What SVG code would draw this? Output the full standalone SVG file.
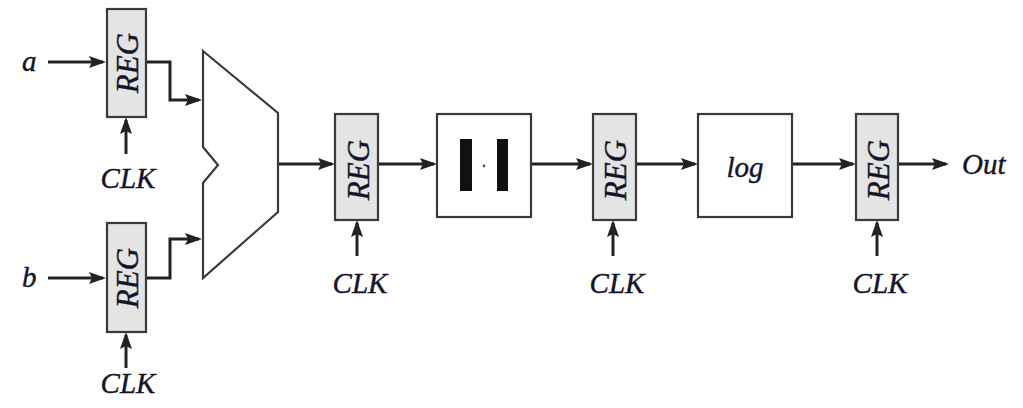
<svg xmlns="http://www.w3.org/2000/svg" width="1023" height="408" viewBox="0 0 1023 408">
  <style>
    .reg { fill: #e4e4e4; stroke: #3a3a3a; stroke-width: 2.2; }
    .blk { fill: #ffffff; stroke: #3a3a3a; stroke-width: 2.2; }
    .mux { fill: #ffffff; stroke: #3a3a3a; stroke-width: 2.2; stroke-linejoin: miter; }
    .wire { fill: none; stroke: #222; stroke-width: 3; marker-end: url(#arrow); }
    .lbl { font-family: "Liberation Serif", "Times New Roman", serif; font-style: italic; fill: #141428; stroke: #141428; stroke-width: 0.4; }
    .io { font-size: 29px; }
    .clk { font-size: 29px; text-anchor: middle; }
    .regt { font-size: 31px; text-anchor: middle; dominant-baseline: central; }
  </style>
  <defs>
    <marker id="arrow" markerUnits="userSpaceOnUse" markerWidth="17" markerHeight="12" refX="14" refY="6" orient="auto">
      <path d="M0,0 L17,6 L0,12 L3,6 z" fill="#222"/>
    </marker>
  </defs>

  <rect width="1023" height="408" fill="#ffffff"/>

  <!-- connectors -->
  <g id="connectors">
    <!-- inputs -->
    <path class="wire" d="M48,62 H103"/>
    <path class="wire" d="M48,278 H103"/>
    <!-- registers into multiplexer -->
    <path class="wire" d="M146,62 H170 V100 H199"/>
    <path class="wire" d="M146,278 H170 V239 H199"/>
    <!-- datapath -->
    <path class="wire" d="M278,164 H332"/>
    <path class="wire" d="M378,164 H434"/>
    <path class="wire" d="M531,164 H590"/>
    <path class="wire" d="M636,164 H695"/>
    <path class="wire" d="M792,164 H853"/>
    <path class="wire" d="M898,164 H946"/>
    <!-- clocks -->
    <path class="wire" d="M126,154 V120"/>
    <path class="wire" d="M126,368 V335"/>
    <path class="wire" d="M357,256 V223"/>
    <path class="wire" d="M613,256 V223"/>
    <path class="wire" d="M877,256 V223"/>
  </g>

  <!-- input labels -->
  <g id="in-a"><text class="lbl io" x="22" y="71">a</text></g>
  <g id="in-b"><text class="lbl io" x="22" y="287">b</text></g>

  <!-- input register a -->
  <g id="reg-a">
    <rect class="reg" x="107" y="9" width="39" height="108"/>
    <text class="lbl regt" transform="translate(127,63) rotate(-90)">REG</text>
    <text class="lbl clk" x="128" y="188">CLK</text>
  </g>

  <!-- input register b -->
  <g id="reg-b">
    <rect class="reg" x="107" y="223" width="39" height="109"/>
    <text class="lbl regt" transform="translate(127,278) rotate(-90)">REG</text>
    <text class="lbl clk" x="128" y="393">CLK</text>
  </g>

  <!-- subtractor / ALU -->
  <g id="alu">
    <polygon class="mux" points="203,51 278,113 278,212 203,278 203,183 218,165 203,147"/>
  </g>

  <!-- pipeline register 1 -->
  <g id="reg-1">
    <rect class="reg" x="335" y="114" width="43" height="106"/>
    <text class="lbl regt" transform="translate(358,170) rotate(-90)">REG</text>
    <text class="lbl clk" x="360" y="293">CLK</text>
  </g>

  <!-- absolute value -->
  <g id="abs">
    <rect class="blk" x="437" y="114" width="94" height="103"/>
    <rect x="460" y="139" width="12" height="52" fill="#111"/>
    <rect x="497" y="139" width="11" height="52" fill="#111"/>
    <circle cx="484" cy="166" r="1.4" fill="#555"/>
  </g>

  <!-- pipeline register 2 -->
  <g id="reg-2">
    <rect class="reg" x="593" y="114" width="43" height="106"/>
    <text class="lbl regt" transform="translate(615,170) rotate(-90)">REG</text>
    <text class="lbl clk" x="617" y="293">CLK</text>
  </g>

  <!-- logarithm -->
  <g id="log">
    <rect class="blk" x="698" y="114" width="94" height="103"/>
    <text class="lbl io" x="745" y="177" text-anchor="middle">log</text>
  </g>

  <!-- output register -->
  <g id="reg-out">
    <rect class="reg" x="856" y="114" width="42" height="106"/>
    <text class="lbl regt" transform="translate(878,170) rotate(-90)">REG</text>
    <text class="lbl clk" x="880" y="293">CLK</text>
  </g>

  <!-- output label -->
  <g id="out"><text class="lbl io" x="962" y="174">Out</text></g>
</svg>
